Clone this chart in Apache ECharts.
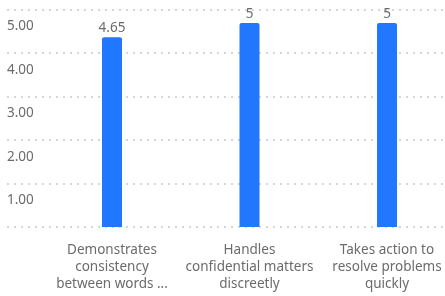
<!DOCTYPE html>
<html>
<head>
<meta charset="utf-8">
<script src="https://cdn.jsdelivr.net/npm/echarts@6/dist/echarts.min.js"></script>
<style>html,body{margin:0;padding:0;background:#fff}#c{width:445px;height:296px}</style>
</head>
<body>
<div id="c"></div>
<script>
var categories = ["Demonstrates\nconsistency\nbetween words ...", "Handles\nconfidential matters\ndiscreetly", "Takes action to\nresolve problems\nquickly"];
var values = [4.65, 5, 5];
var valueLabels = ["4.65", "5", "5"];
var yTicks = [0, 1, 2, 3, 4, 5];

var chart = echarts.init(document.getElementById('c'), null, {renderer: 'canvas'});
var font = '"Noto Sans", Roboto, "Liberation Sans", sans-serif';
chart.setOption({
  animation: false,
  grid: [
    {left: 7, right: 0, top: 9.5, bottom: 69, outerBoundsMode: 'none', containLabel: false},
    {left: 43.25, width: 412.5, top: 9.5, bottom: 69, outerBoundsMode: 'none', containLabel: false}
  ],
  xAxis: [
    {gridIndex: 0, type: 'value', show: false, min: 0, max: 1},
    {gridIndex: 1, type: 'category', data: categories,
     axisLine: {show: false}, axisTick: {show: false},
     axisLabel: {color: '#6b6b6b', fontSize: 13.5, lineHeight: 17, margin: 15, fontFamily: font, interval: 0}}
  ],
  yAxis: [
    {gridIndex: 0, type: 'value', min: yTicks[0], max: yTicks[yTicks.length - 1], interval: 1,
     axisLine: {show: false}, axisTick: {show: false},
     splitLine: {show: true, lineStyle: {color: '#d6d6d6', width: 2, type: [2, 5]}},
     axisLabel: {inside: true, margin: 0, color: '#6b6b6b', fontSize: 13.5, fontFamily: font,
       verticalAlign: 'top', padding: [10, 0, 0, 0], showMinLabel: false,
       formatter: function (v) { return v === 0 ? '' : v.toFixed(2); }}},
    {gridIndex: 1, type: 'value', min: 0, max: 5.33, show: false}
  ],
  series: [{
    type: 'bar', xAxisIndex: 1, yAxisIndex: 1, data: values, barWidth: 20,
    itemStyle: {color: '#2277ff', borderRadius: [2, 2, 0, 0]},
    label: {show: true, position: 'top', distance: 2, color: '#6b6b6b', fontSize: 13.5, fontFamily: font,
      formatter: function (p) { return valueLabels[p.dataIndex]; }}
  }]
});
</script>
</body>
</html>
